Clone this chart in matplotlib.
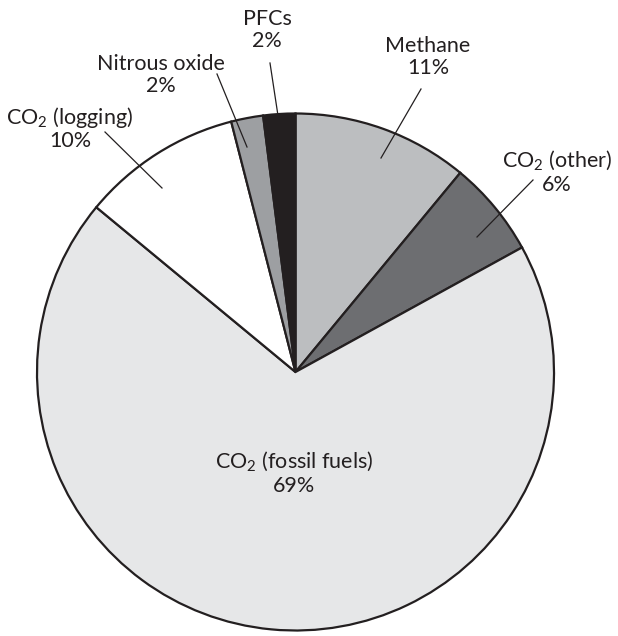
import matplotlib
matplotlib.use("Agg")
import matplotlib.pyplot as plt
from matplotlib.lines import Line2D

# Greenhouse gas emission shares (%), clockwise from 12 o'clock
labels = ["Methane", "CO$_\\mathregular{2}$ (other)", "CO$_\\mathregular{2}$ (fossil fuels)",
          "CO$_\\mathregular{2}$ (logging)", "Nitrous oxide", "PFCs"]
shares = [11, 6, 69, 10, 2, 2]
colors = ["#bcbec0", "#6d6e71", "#e6e7e8", "#ffffff", "#9d9fa2", "#231f20"]

W, H = 618, 636
INK = "#231f20"

plt.rcParams["font.family"] = ["Lato", "DejaVu Sans"]
plt.rcParams["mathtext.fontset"] = "custom"
plt.rcParams["mathtext.rm"] = "Lato"

fig = plt.figure(figsize=(W / 100, H / 100), dpi=100)

cx, cy, r = 295.5, 372.0, 258.5
ax = fig.add_axes([(cx - r) / W, 1 - (cy + r) / H, 2 * r / W, 2 * r / H])
ax.pie(shares, colors=colors, startangle=90, counterclock=False,
       wedgeprops=dict(edgecolor=INK, linewidth=1.6, joinstyle="miter"))
ax.set_xlim(-1, 1)
ax.set_ylim(-1, 1)
ax.set_aspect("equal")
ax.axis("off")


def fx(x):
    return x / W


def fy(y):
    return 1 - y / H


# label text centres (px) and leader lines (px, from text side to wedge)
text_pos = [(428, 57), (557, 172), (294, 473), (70, 128), (161, 75), (267, 30)]
leaders = [((421, 89), (381, 158)),
           ((533, 180), (477, 237)),
           None,
           ((105, 132), (162, 188)),
           ((217, 74), (247, 147)),
           ((270, 63), (282, 142))]

for lab, val, (tx, ty), ld in zip(labels, shares, text_pos, leaders):
    fig.text(fx(tx), fy(ty), f"{lab}\n{val}%", ha="center", va="center",
             fontsize=15.5, color=INK, linespacing=1.12)
    if ld is not None:
        (x0, y0), (x1, y1) = ld
        fig.add_artist(Line2D([fx(x0), fx(x1)], [fy(y0), fy(y1)],
                              transform=fig.transFigure, color=INK, lw=0.9))

fig.savefig("out.png", dpi=100, facecolor="white")
